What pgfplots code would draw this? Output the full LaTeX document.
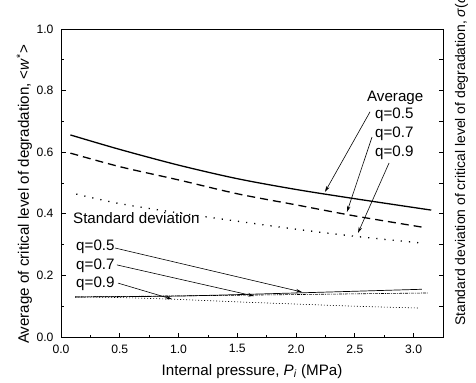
\documentclass[border=0pt]{standalone}
\usepackage{fontspec}
\setmainfont{Liberation Sans}
\usepackage{pgfplots}
\pgfplotsset{compat=1.18}
\usetikzlibrary{arrows.meta}
\newcommand{\lf}{\fontsize{15.2}{18}\selectfont}
\begin{document}
\begin{tikzpicture}
\begin{axis}[
 scale only axis, width=382bp, height=308bp,
 xmin=0, xmax=3.25, ymin=0, ymax=1,
 xtick={0,0.5,1.0,1.5,2.0,2.5,3.0}, minor x tick num=1,
 ytick={0,0.2,0.4,0.6,0.8,1.0}, minor y tick num=1,
 xtick pos=bottom, ytick pos=left,
 tick align=inside,
 major tick length=4.5bp, minor tick length=2.5bp,
 axis line style={line width=1pt},
 every tick/.style={line width=0.8pt, black},
 /pgf/number format/assume math mode=true,
 /pgf/number format/fixed, /pgf/number format/fixed zerofill, /pgf/number format/precision=1,
 ticklabel style={font=\fontsize{12.2}{14}\selectfont},
 xticklabel style={yshift=-4bp},
 yticklabel style={xshift=-4bp},
 xlabel={Internal pressure, \textit{P}\textsubscript{\textit{i}} (MPa)},
 ylabel={Average of critical level of degradation, <\textit{w}\textsuperscript{*}>},
 label style={font=\lf},
 xlabel style={at={(axis description cs:0.5,-0.1234)}, anchor=base},
 ylabel style={at={(axis description cs:-0.0838,0.463)}, anchor=base},
 clip=false,
]
% Average
\addplot[black, line width=1.3pt, smooth] coordinates {(0.08,0.656) (0.5,0.609) (1.0,0.558) (1.5,0.514) (2.0,0.479) (2.5,0.449) (3.15,0.412)};
\addplot[black, line width=1.3pt, smooth, dash pattern=on 8bp off 5bp] coordinates {(0.08,0.597) (0.5,0.553) (1.0,0.510) (1.5,0.465) (2.0,0.429) (2.5,0.393) (3.1,0.355)};
\addplot[black, line width=1.3pt, smooth, dash pattern=on 1.2bp off 7bp] coordinates {(0.13,0.464) (0.5,0.433) (1.0,0.403) (1.5,0.376) (2.0,0.350) (2.5,0.327) (3.07,0.305)};
% Standard deviation
\addplot[black, line width=0.7pt, smooth] coordinates {(0.12,0.130) (1.0,0.133) (2.0,0.143) (3.07,0.155)};
\addplot[black, line width=0.6pt, smooth, dash pattern=on 3bp off 1bp on 1bp off 1bp] coordinates {(0.12,0.130) (1.6,0.136) (3.12,0.143)};
\addplot[black, line width=0.6pt, smooth, dash pattern=on 1bp off 2bp] coordinates {(0.12,0.130) (0.5,0.128) (1.0,0.122) (1.5,0.114) (2.0,0.107) (2.5,0.100) (3.05,0.094)};
% annotations
\node[font=\lf, anchor=west, inner sep=0] at (axis cs:2.603,0.776) {Average};
\node[font=\lf, anchor=west, inner sep=0] at (axis cs:2.671,0.721) {q=0.5};
\node[font=\lf, anchor=west, inner sep=0] at (axis cs:2.671,0.659) {q=0.7};
\node[font=\lf, anchor=west, inner sep=0] at (axis cs:2.671,0.599) {q=0.9};
\draw[line width=0.6pt, -{Stealth[length=6bp,width=3.5bp]}] (axis cs:2.629,0.731) -- (axis cs:2.246,0.471);
\draw[line width=0.6pt, -{Stealth[length=6bp,width=3.5bp]}] (axis cs:2.646,0.649) -- (axis cs:2.433,0.406);
\draw[line width=0.6pt, -{Stealth[length=6bp,width=3.5bp]}] (axis cs:2.791,0.565) -- (axis cs:2.527,0.338);
\node[font=\lf, anchor=west, inner sep=0] at (axis cs:0.102,0.386) {Standard deviation};
\node[font=\lf, anchor=west, inner sep=0] at (axis cs:0.128,0.292) {q=0.5};
\node[font=\lf, anchor=west, inner sep=0] at (axis cs:0.128,0.231) {q=0.7};
\node[font=\lf, anchor=west, inner sep=0] at (axis cs:0.128,0.172) {q=0.9};
\draw[line width=0.6pt, -{Stealth[length=6bp,width=3.5bp]}] (axis cs:0.459,0.289) -- (axis cs:2.050,0.146);
\draw[line width=0.6pt, -{Stealth[length=6bp,width=3.5bp]}] (axis cs:0.476,0.234) -- (axis cs:1.642,0.133);
\draw[line width=0.6pt, -{Stealth[length=6bp,width=3.5bp]}] (axis cs:0.485,0.175) -- (axis cs:0.944,0.123);
\end{axis}
\begin{axis}[
 scale only axis, width=382bp, height=308bp,
 xmin=0, xmax=3.25, ymin=0, ymax=1,
 hide x axis,
 ytick pos=right, ytick={0.1,0.2,0.3,0.4,0.5,0.6,0.7,0.8,0.9}, yticklabels={},
 tick align=inside, major tick length=4.5bp,
 axis line style={line width=1pt},
 every tick/.style={line width=0.8pt, black},
 ylabel={Standard deviation of critical level of degradation, \textit{σ}(\textit{ω})},
 label style={font=\fontsize{14}{17}\selectfont},
 ylabel style={at={(axis description cs:1.0576,0.036)}, anchor=base west, inner sep=0pt},
]
\end{axis}
\pgfresetboundingbox
\path[use as bounding box] (-61bp,-46bp) rectangle (415bp,337bp);
\end{tikzpicture}
\end{document}
